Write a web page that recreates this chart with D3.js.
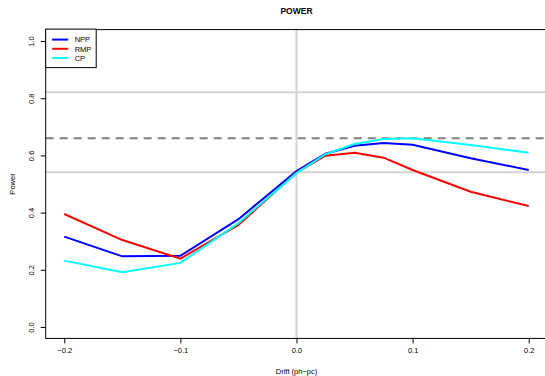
<!DOCTYPE html>
<html>
<head>
<meta charset="utf-8">
<script src="https://cdn.jsdelivr.net/npm/d3@7"></script>
<style>
  body { margin: 0; background: #fff; }
  svg { display: block; font-family: "Liberation Sans", Arial, sans-serif; }
</style>
</head>
<body>
<svg width="545" height="376"></svg>
<script>
// drift values on the x axis
var drift = [-0.2, -0.15, -0.1, -0.05, 0, 0.025, 0.05, 0.075, 0.1, 0.15, 0.2];
var npp = [0.316, 0.247, 0.249, 0.377, 0.545, 0.606, 0.634, 0.643, 0.637, 0.590, 0.549];
var rmp = [0.395, 0.304, 0.239, 0.357, 0.540, 0.599, 0.609, 0.592, 0.549, 0.473, 0.423];
var cp  = [0.232, 0.191, 0.224, 0.363, 0.538, 0.604, 0.640, 0.657, 0.660, 0.636, 0.609];
var seriesNames = ["NPP", "RMP", "CP"];
var seriesColors = ["#0000ff", "#ff0000", "#00ffff"];
var xTicks = [-0.2, -0.1, 0.0, 0.1, 0.2];
var yTicks = [0.0, 0.2, 0.4, 0.6, 0.8, 1.0];
var refSolid = [0.821, 0.541];
var refDashed = 0.66;

var svg = d3.select("svg"),
  plotL = 45.7, plotR = 547.3, plotT = 29.6, plotB = 338.4;

var x = d3.scaleLinear().domain([-0.216, 0.216]).range([plotL, plotR]);
var y = d3.scaleLinear().domain([-0.04, 1.04]).range([plotB, plotT]);

var series = [npp, rmp, cp];

// reference lines
svg.append("line")
  .attr("x1", x(0)).attr("x2", x(0))
  .attr("y1", plotT).attr("y2", plotB)
  .attr("stroke", "#d3d3d3").attr("stroke-width", 2);
refSolid.forEach(function(v) {
  svg.append("line")
    .attr("x1", plotL).attr("x2", plotR)
    .attr("y1", y(v)).attr("y2", y(v))
    .attr("stroke", "#d3d3d3").attr("stroke-width", 2);
});
svg.append("line")
  .attr("x1", plotL).attr("x2", plotR)
  .attr("y1", y(refDashed)).attr("y2", y(refDashed))
  .attr("stroke", "#808080").attr("stroke-width", 2)
  .attr("stroke-dasharray", "8,6");

// series lines
var line = d3.line()
  .x(function(d, i) { return x(drift[i]); })
  .y(function(d) { return y(d); });

series.forEach(function(s, k) {
  svg.append("path")
    .datum(s)
    .attr("d", line)
    .attr("fill", "none")
    .attr("stroke", seriesColors[k])
    .attr("stroke-width", 2);
});

// box
svg.append("rect")
  .attr("x", plotL).attr("y", plotT)
  .attr("width", plotR - plotL).attr("height", plotB - plotT)
  .attr("fill", "none").attr("stroke", "#000").attr("stroke-width", 1);

// axes
var xAxis = d3.axisBottom(x).tickValues(xTicks).tickSize(5).tickPadding(4)
  .tickFormat(function(d) { return d3.format(".1f")(d).replace("-", "\u2212"); });
var gx = svg.append("g").attr("transform", "translate(0," + plotB + ")").call(xAxis);
gx.select(".domain").remove();
gx.selectAll("text").attr("font-size", 7.5).attr("fill", "#000").attr("font-family", "Liberation Sans, Arial, sans-serif");

var yAxis = d3.axisLeft(y).tickValues(yTicks).tickSize(5).tickFormat(d3.format(".1f"));
var gy = svg.append("g").attr("transform", "translate(" + plotL + ",0)").call(yAxis);
gy.select(".domain").remove();
gy.selectAll(".tick text")
  .attr("font-size", 7.5).attr("fill", "#000")
  .attr("font-family", "Liberation Sans, Arial, sans-serif")
  .attr("x", 0).attr("dy", 0)
  .attr("text-anchor", "middle")
  .attr("transform", "translate(-12,0) rotate(-90)");

// title and labels
svg.append("text")
  .attr("x", (plotL + plotR) / 2).attr("y", 14)
  .attr("text-anchor", "middle").attr("font-size", 8.5).attr("font-weight", "bold")
  .text("POWER");
svg.append("text")
  .attr("x", (plotL + plotR) / 2).attr("y", 374)
  .attr("text-anchor", "middle").attr("font-size", 7.5)
  .text("Drift (ph\u2212pc)");
svg.append("text")
  .attr("transform", "translate(15," + ((plotT + plotB) / 2) + ") rotate(-90)")
  .attr("text-anchor", "middle").attr("font-size", 7.5)
  .text("Power");

// legend
var lg = svg.append("g");
lg.append("rect")
  .attr("x", plotL).attr("y", plotT - 0.5)
  .attr("width", 50.5).attr("height", 38.5)
  .attr("fill", "#fff").attr("stroke", "#000").attr("stroke-width", 1);
seriesNames.forEach(function(n, k) {
  var yy = plotT + 10 + k * 9.2;
  lg.append("line")
    .attr("x1", plotL + 6.5).attr("x2", plotL + 22.5)
    .attr("y1", yy).attr("y2", yy)
    .attr("stroke", seriesColors[k]).attr("stroke-width", 2);
  lg.append("text")
    .attr("x", plotL + 29).attr("y", yy + 2.8)
    .attr("font-size", 7.5)
    .text(n);
});
</script>
</body>
</html>
